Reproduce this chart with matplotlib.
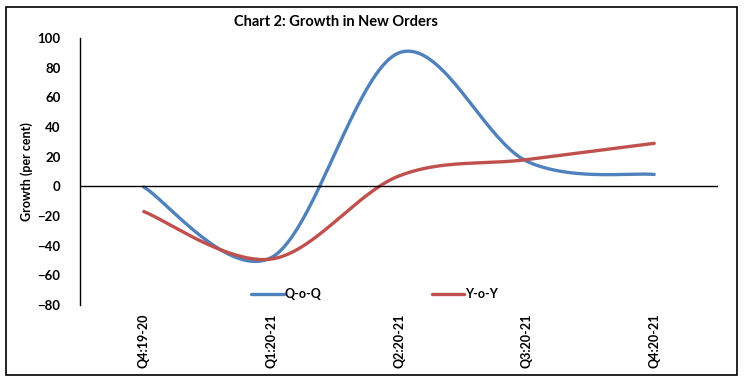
import numpy as np
import matplotlib.pyplot as plt
from matplotlib.patches import Rectangle

quarters = ["Q4:19-20", "Q1:20-21", "Q2:20-21", "Q3:20-21", "Q4:20-21"]
qoq = [-0.5, -48, 90, 17, 8]
yoy = [-17, -49, 7, 18, 29]

plt.rcParams['font.family'] = ['Lato', 'DejaVu Sans']


# excel style smoothed line (bezier through the points)
def smooth(xs, ys, n=40):
    xs = list(xs)
    ys = list(ys)
    px = [xs[0]] + xs + [xs[-1]]
    py = [ys[0]] + ys + [ys[-1]]
    out_x, out_y = [], []
    t = np.linspace(0, 1, n)
    for i in range(1, len(px) - 2):
        x0, y0 = px[i], py[i]
        x3, y3 = px[i + 1], py[i + 1]
        x1 = x0 + (px[i + 1] - px[i - 1]) / 6
        y1 = y0 + (py[i + 1] - py[i - 1]) / 6
        x2 = x3 - (px[i + 2] - px[i]) / 6
        y2 = y3 - (py[i + 2] - py[i]) / 6
        bx = (1-t)**3*x0 + 3*(1-t)**2*t*x1 + 3*(1-t)*t**2*x2 + t**3*x3
        by = (1-t)**3*y0 + 3*(1-t)**2*t*y1 + 3*(1-t)*t**2*y2 + t**3*y3
        out_x.extend(bx)
        out_y.extend(by)
    return out_x, out_y


fig = plt.figure(figsize=(7.44, 3.82), dpi=100)
fig.patches.append(Rectangle((6/744, 1-375/382), 731/744, 368/382,
                             transform=fig.transFigure, fill=False,
                             edgecolor='black', linewidth=1.2))
ax = fig.add_axes([80/744, 1-305/382, 638/744, 267/382])

x = np.arange(len(quarters))
sx, sy = smooth(x, qoq)
ax.plot(sx, sy, color='#4F81BD', linewidth=2.4, label='Q-o-Q', solid_capstyle='round')
sx, sy = smooth(x, yoy)
ax.plot(sx, sy, color='#C0504D', linewidth=2.4, label='Y-o-Y', solid_capstyle='round')

ax.axhline(0, color='black', linewidth=1)
ax.set_xlim(-0.5, 4.5)
ax.set_ylim(-80, 100)
ax.set_yticks(range(-80, 101, 20))
ax.set_xticks(x)
ax.set_xticklabels(quarters, rotation=90, fontweight='bold', fontsize=9)
for lab in ax.get_yticklabels():
    lab.set_fontweight('bold')
    lab.set_fontsize(9.5)
ax.tick_params(length=0, pad=14)
ax.tick_params(axis='x', pad=6)
for s in ['top', 'right', 'bottom']:
    ax.spines[s].set_visible(False)
ax.spines['left'].set_linewidth(1)

ax.set_ylabel('Growth (per cent)', fontweight='bold', fontsize=9, labelpad=3)
fig.text(336/744, 1-22/382, 'Chart 2: Growth in New Orders',
         ha='center', va='center', fontweight='bold', fontsize=10.5)

ax.legend(loc='center', bbox_to_anchor=(0.462, 0.04), ncol=2, frameon=False,
          prop={'weight': 'bold', 'size': 9}, handlelength=2.6,
          handletextpad=0.1, columnspacing=8.8)

fig.savefig('out.png', dpi=100)
